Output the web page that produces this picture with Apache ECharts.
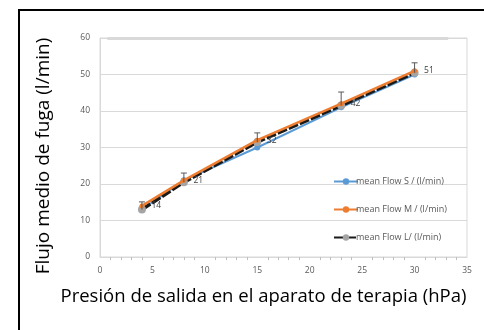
<!DOCTYPE html>
<html>
<head>
<meta charset="utf-8">
<script src="https://cdn.jsdelivr.net/npm/echarts@6/dist/echarts.min.js"></script>
<style>
  html, body { margin: 0; padding: 0; background: #fff; }
  #chart { width: 484px; height: 330px; }
</style>
</head>
<body>
<div id="chart"></div>
<script>
// presión (hPa)
var pressure = [4, 8, 15, 23, 30];
// flujo medio por tamaño
var flowS = [13, 21, 30, 41, 50];
var flowM = [14, 21, 32, 42, 51];
var flowL = [13, 20.5, 31.5, 41.5, 50.5];
// extremo superior de la barra de error
var errTop = [15.1, 23, 34, 45.2, 53.2];

var names = ['mean Flow S / (l/min)', 'mean Flow M / (l/min)', 'mean Flow L/ (l/min)'];

function pairs(ys) {
  return pressure.map(function (x, i) { return [x, ys[i]]; });
}

var chart = echarts.init(document.getElementById('chart'));

var option = {
  animation: false,
  textStyle: { fontFamily: 'Open Sans' },
  graphic: [
    {
      type: 'rect',
      shape: { x: 19, y: 10, width: 480, height: 340 },
      style: { fill: 'none', stroke: '#000', lineWidth: 2 },
      silent: true
    }
  ],
  grid: {
    left: 100, right: 17, top: 38, bottom: 73,
    outerBoundsMode: 'none',
    containLabel: false,
    show: true, borderColor: '#d9d9d9', borderWidth: 1
  },
  legend: {
    orient: 'vertical',
    left: 328, top: 172,
    itemGap: 19,
    itemWidth: 24, itemHeight: 8,
    textStyle: { fontSize: 9, color: '#595959', padding: [0, 0, 0, -7] },
    data: names
  },
  xAxis: {
    type: 'value',
    min: 0, max: 35, interval: 5,
    name: 'Presión de salida en el aparato de terapia (hPa)',
    nameLocation: 'middle',
    nameGap: 30,
    nameTextStyle: { fontSize: 18.5, color: '#000', padding: [0, 40, 0, 0] },
    axisLine: { show: true, lineStyle: { color: '#d9d9d9' } },
    axisTick: { show: false },
    minorTick: { show: true, splitNumber: 5, length: 3, lineStyle: { color: '#bfbfbf' } },
    axisLabel: { fontSize: 8.5, color: '#595959', margin: 9 },
    splitLine: { show: false }
  },
  yAxis: {
    type: 'value',
    min: 0, max: 60, interval: 10,
    name: 'Flujo medio de fuga (l/min)',
    nameLocation: 'middle',
    nameGap: 47,
    nameTextStyle: { fontSize: 19, color: '#000', padding: [0, 17, 0, 0] },
    axisLine: { show: true, lineStyle: { color: '#d9d9d9' } },
    axisTick: { show: false },
    axisLabel: { fontSize: 8.5, color: '#595959', margin: 10 },
    splitLine: { lineStyle: { color: '#d9d9d9' } }
  },
  series: [
    {
      name: names[0],
      type: 'line',
      data: pairs(flowS),
      symbol: 'circle', symbolSize: 6,
      itemStyle: { color: '#5b9bd5' },
      lineStyle: { width: 2, color: '#5b9bd5' },
      z: 2
    },
    {
      name: names[2],
      type: 'line',
      data: pairs(flowL),
      symbol: 'circle', symbolSize: 8,
      itemStyle: { color: '#a5a5a5' },
      lineStyle: { width: 3.5, color: '#1a1a1a', type: [10, 2] },
      z: 3
    },
    {
      name: names[1],
      type: 'line',
      data: pairs(flowM),
      symbol: 'circle', symbolSize: 5,
      itemStyle: { color: '#ed7d31' },
      lineStyle: { width: 2.5, color: '#ed7d31' },
      label: {
        show: true, position: 'right', distance: 7,
        fontSize: 8.5, color: '#404040',
        formatter: function (p) { return p.value[1]; }
      },
      markLine: {
        silent: true, symbol: 'none', label: { show: false },
        lineStyle: { color: '#d9d9d9', width: 3, type: 'solid' },
        data: [[{ coord: [0.7, 60] }, { coord: [33.2, 60] }]]
      },
      z: 4
    },
    {
      name: 'error',
      type: 'custom',
      data: pressure.map(function (x, i) { return [x, flowL[i], errTop[i]]; }),
      renderItem: function (params, api) {
        var lo = api.coord([api.value(0), api.value(1)]);
        var hi = api.coord([api.value(0), api.value(2)]);
        var st = { stroke: '#595959', lineWidth: 1 };
        return {
          type: 'group',
          children: [
            { type: 'line', shape: { x1: lo[0], y1: lo[1], x2: hi[0], y2: hi[1] }, style: st },
            { type: 'line', shape: { x1: hi[0] - 3, y1: hi[1], x2: hi[0] + 3, y2: hi[1] }, style: st }
          ]
        };
      },
      z: 5
    }
  ]
};

chart.setOption(option);
</script>
</body>
</html>
